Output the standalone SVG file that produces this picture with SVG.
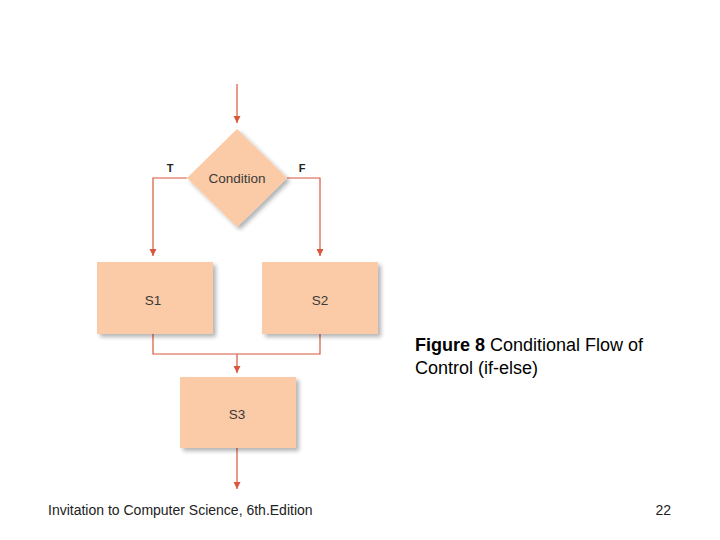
<svg xmlns="http://www.w3.org/2000/svg" width="720" height="540" viewBox="0 0 720 540">
<defs>
<marker id="arr" viewBox="0 0 10 10" refX="10" refY="5" markerWidth="7" markerHeight="9" markerUnits="userSpaceOnUse" orient="auto">
<path d="M0,0 L10,5 L0,10 z" fill="#d9573c"/>
</marker>
<filter id="sh" x="-10%" y="-10%" width="130%" height="130%">
<feGaussianBlur in="SourceAlpha" stdDeviation="2"/>
<feOffset dx="3" dy="3" result="b"/>
<feComponentTransfer><feFuncA type="linear" slope="0.3"/></feComponentTransfer>
<feMerge><feMergeNode/><feMergeNode in="SourceGraphic"/></feMerge>
</filter>
</defs>
<style>
.n{fill:#fbcaa6;filter:url(#sh)}
.t{font-family:"Liberation Sans",Arial,sans-serif;font-size:13.5px;fill:#3a3a3a;text-anchor:middle}
.l{font-family:"Liberation Sans",Arial,sans-serif;font-size:11px;font-weight:bold;fill:#222;text-anchor:middle}
.c{stroke:#d9573c;stroke-width:1.2;fill:none}
.cap{font-family:"Liberation Sans",Arial,sans-serif;font-size:18px;fill:#000}
.f{font-family:"Liberation Sans",Arial,sans-serif;font-size:14px;fill:#222}
</style>
<rect width="720" height="540" fill="#fff"/>
<g id="connectors">
<path class="c" d="M237,84 V123" marker-end="url(#arr)"/>
<path class="c" d="M187,178 H153 V256" marker-end="url(#arr)"/>
<path class="c" d="M287,178 H320 V256" marker-end="url(#arr)"/>
<path class="c" d="M153,334 V354 H320 V334"/>
<path class="c" d="M237,354 V373" marker-end="url(#arr)"/>
<path class="c" d="M237,448 V489" marker-end="url(#arr)"/>
</g>
<g id="labels">
<text class="l" x="170" y="172">T</text>
<text class="l" x="302" y="172">F</text>
</g>
<g id="condition">
<polygon class="n" points="237,129 287,178 237,227 187,178"/>
<text class="t" x="237" y="183">Condition</text>
</g>
<g id="s1">
<rect class="n" x="97" y="262" width="116" height="72"/>
<text class="t" x="153" y="305">S1</text>
</g>
<g id="s2">
<rect class="n" x="262" y="262" width="116" height="72"/>
<text class="t" x="320" y="305">S2</text>
</g>
<g id="s3">
<rect class="n" x="180" y="377" width="116" height="71"/>
<text class="t" x="237" y="419">S3</text>
</g>
<g id="caption">
<text class="cap" x="415" y="351"><tspan font-weight="bold">Figure 8</tspan> Conditional Flow of</text>
<text class="cap" x="415" y="374">Control (if-else)</text>
</g>
<g id="footer">
<text class="f" x="48" y="515">Invitation to Computer Science, 6th.Edition</text>
<text class="f" x="671" y="515" text-anchor="end">22</text>
</g>
</svg>
